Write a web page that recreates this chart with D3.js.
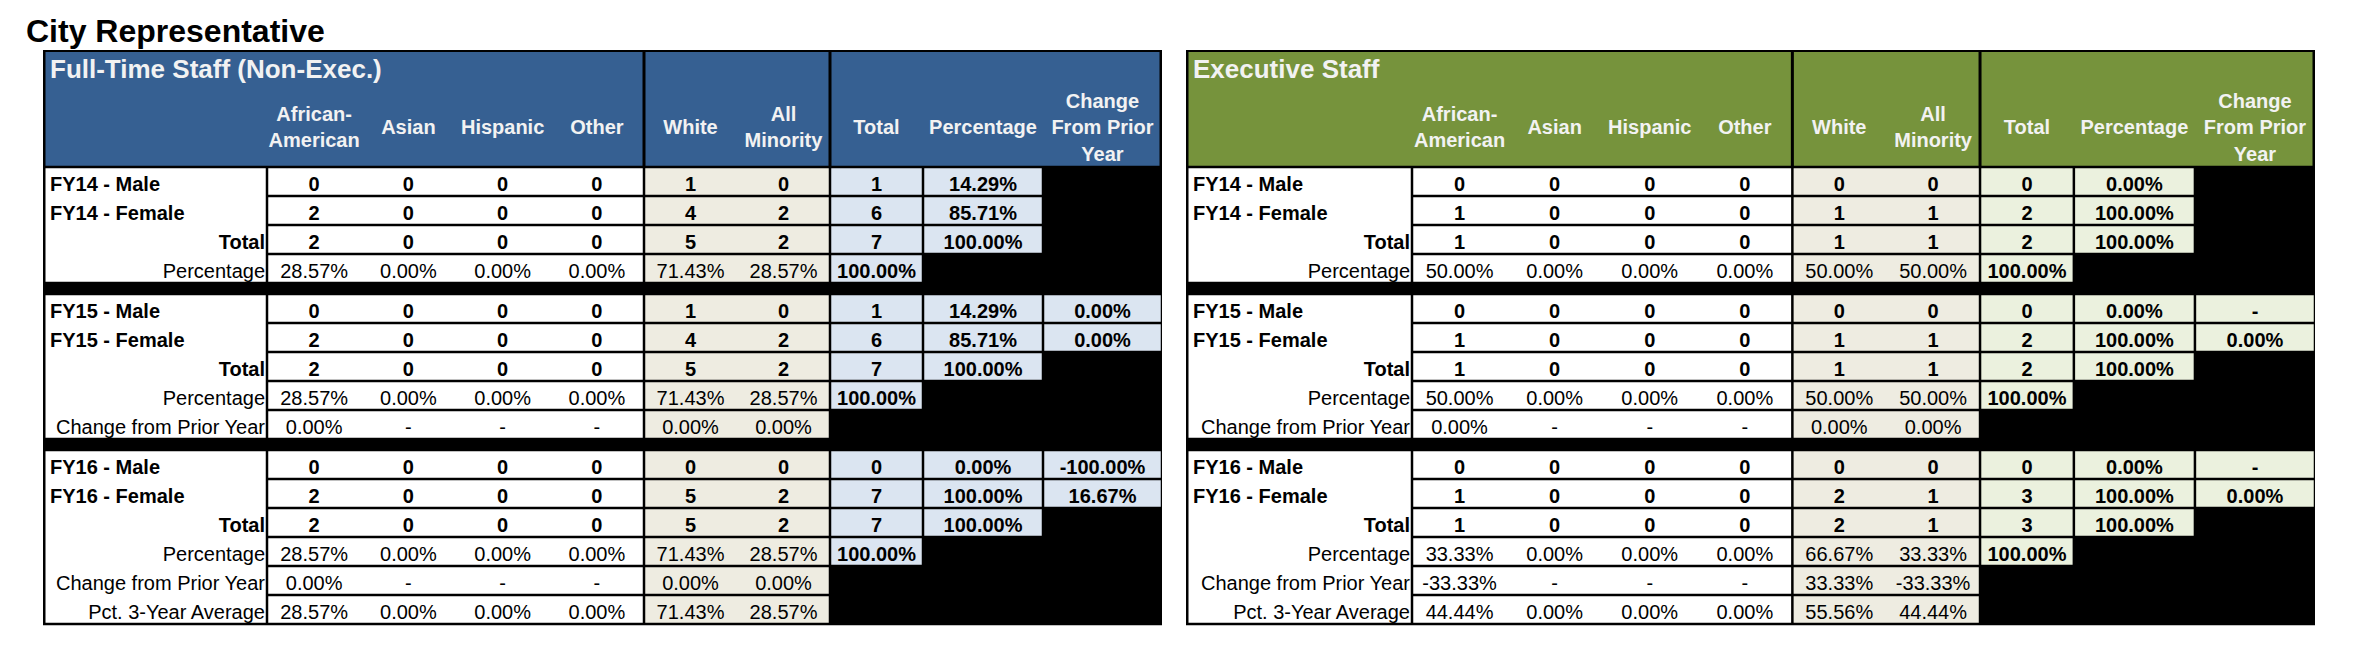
<!DOCTYPE html>
<html>
<head>
<meta charset="utf-8">
<title>City Representative</title>
<script src="https://cdn.jsdelivr.net/npm/d3@7"></script>
<style>
	body { margin: 0; background: #fff; }
	svg text { font-family: "Liberation Sans", Arial, Helvetica, sans-serif; }
</style>
</head>
<body>
<div id="chart"></div>
<script>
(function () {
'use strict';

var chartTitle = "City Representative";
var tableTitles = ["Full-Time Staff (Non-Exec.)", "Executive Staff"];

// column heads, one entry per line
var columnHeaders = [
	[], ["African-", "American"], ["Asian"], ["Hispanic"], ["Other"],
	["White"], ["All", "Minority"], ["Total"], ["Percentage"], ["Change", "From Prior", "Year"]
];

var rowLabels = [
	"FY14 - Male", "FY14 - Female", "Total", "Percentage",
	"FY15 - Male", "FY15 - Female", "Total", "Percentage", "Change from Prior Year",
	"FY16 - Male", "FY16 - Female", "Total", "Percentage", "Change from Prior Year", "Pct. 3-Year Average"
];
var rowKinds = [
	"count", "count", "total", "pct",
	"count", "count", "total", "pct", "change",
	"count", "count", "total", "pct", "change", "avg"
];
var rowBlocks = [0, 0, 0, 0, 1, 1, 1, 1, 1, 2, 2, 2, 2, 2, 2];

// Full-Time Staff (Non-Exec.): African-American, Asian, Hispanic, Other, White, All Minority
var fullTimeGroups = [
	["0", "0", "0", "0", "1", "0"],
	["2", "0", "0", "0", "4", "2"],
	["2", "0", "0", "0", "5", "2"],
	["28.57%", "0.00%", "0.00%", "0.00%", "71.43%", "28.57%"],
	["0", "0", "0", "0", "1", "0"],
	["2", "0", "0", "0", "4", "2"],
	["2", "0", "0", "0", "5", "2"],
	["28.57%", "0.00%", "0.00%", "0.00%", "71.43%", "28.57%"],
	["0.00%", "-", "-", "-", "0.00%", "0.00%"],
	["0", "0", "0", "0", "0", "0"],
	["2", "0", "0", "0", "5", "2"],
	["2", "0", "0", "0", "5", "2"],
	["28.57%", "0.00%", "0.00%", "0.00%", "71.43%", "28.57%"],
	["0.00%", "-", "-", "-", "0.00%", "0.00%"],
	["28.57%", "0.00%", "0.00%", "0.00%", "71.43%", "28.57%"]
];
var fullTimeTotal = ["1", "6", "7", "100.00%", "1", "6", "7", "100.00%", null, "0", "7", "7", "100.00%", null, null];
var fullTimePct = ["14.29%", "85.71%", "100.00%", null, "14.29%", "85.71%", "100.00%", null, null, "0.00%", "100.00%", "100.00%", null, null, null];
var fullTimeChange = [null, null, null, null, "0.00%", "0.00%", null, null, null, "-100.00%", "16.67%", null, null, null, null];

// Executive Staff
var execGroups = [
	["0", "0", "0", "0", "0", "0"],
	["1", "0", "0", "0", "1", "1"],
	["1", "0", "0", "0", "1", "1"],
	["50.00%", "0.00%", "0.00%", "0.00%", "50.00%", "50.00%"],
	["0", "0", "0", "0", "0", "0"],
	["1", "0", "0", "0", "1", "1"],
	["1", "0", "0", "0", "1", "1"],
	["50.00%", "0.00%", "0.00%", "0.00%", "50.00%", "50.00%"],
	["0.00%", "-", "-", "-", "0.00%", "0.00%"],
	["0", "0", "0", "0", "0", "0"],
	["1", "0", "0", "0", "2", "1"],
	["1", "0", "0", "0", "2", "1"],
	["33.33%", "0.00%", "0.00%", "0.00%", "66.67%", "33.33%"],
	["-33.33%", "-", "-", "-", "33.33%", "-33.33%"],
	["44.44%", "0.00%", "0.00%", "0.00%", "55.56%", "44.44%"]
];
var execTotal = ["0", "2", "2", "100.00%", "0", "2", "2", "100.00%", null, "0", "3", "3", "100.00%", null, null];
var execPct = ["0.00%", "100.00%", "100.00%", null, "0.00%", "100.00%", "100.00%", null, null, "0.00%", "100.00%", "100.00%", null, null, null];
var execChange = [null, null, null, null, "-", "0.00%", null, null, null, "-", "0.00%", null, null, null, null];

var width = 2366, height = 650;
var tableTop = 50, headBottom = 167, rowH = 29, blockGap = 11;
var gap = 1.25; // half of a grid line
var colUnits = [224, 94.25, 94.25, 94.25, 94.25, 93, 93, 93, 120, 119];
var colEdges = [0].concat(Array.from(d3.cumsum(colUnits)));

var tables = [
	{title: tableTitles[0], left: 43, right: 1162, head: "#366092", tan: "#eeece1", light: "#dbe5f1",
		groups: fullTimeGroups, total: fullTimeTotal, pct: fullTimePct, change: fullTimeChange},
	{title: tableTitles[1], left: 1186, right: 2315, head: "#76933c", tan: "#eeece1", light: "#ebf1de",
		groups: execGroups, total: execTotal, pct: execPct, change: execChange}
];

var svg = d3.select("#chart").append("svg")
	.attr("width", width)
	.attr("height", height);

svg.append("rect").attr("width", width).attr("height", height).attr("fill", "#fff");

svg.append("text")
	.attr("x", 26)
	.attr("y", 42)
	.attr("font-size", "32px")
	.attr("font-weight", "bold")
	.attr("fill", "#000")
	.text(chartTitle);

var rowY = d3.scaleLinear().domain([0, 1]).range([headBottom, headBottom + rowH]);
var rowTop = function(i){ return rowY(i) + rowBlocks[i] * blockGap; };

var drawTable = function(t){
	var g = svg.append("g").attr("class", "table");
	var x = d3.scaleLinear()
		.domain([0, colEdges[colEdges.length - 1]])
		.range([t.left, t.right]);
	var last = rowLabels.length - 1;
	var bottom = rowTop(last) + rowH + gap;

	// black frame / background, the cells are laid over it
	g.append("rect")
		.attr("x", t.left).attr("y", tableTop)
		.attr("width", t.right - t.left).attr("height", bottom - tableTop)
		.attr("fill", "#000");

	// header band
	g.append("rect")
		.attr("x", t.left + 2.5).attr("y", tableTop + 2)
		.attr("width", t.right - t.left - 5).attr("height", headBottom - gap - tableTop - 2)
		.attr("fill", t.head);
	[5, 7].forEach(function(c){
		g.append("line")
			.attr("x1", x(colEdges[c])).attr("x2", x(colEdges[c]))
			.attr("y1", tableTop).attr("y2", headBottom)
			.attr("stroke", "#000").attr("stroke-width", 3);
	});

	g.append("text")
		.attr("x", t.left + 7).attr("y", 78)
		.attr("font-size", "26px").attr("font-weight", "bold")
		.attr("fill", "#f2f2f2")
		.text(t.title);

	columnHeaders.forEach(function(lines, c){
		var cx = (x(colEdges[c]) + x(colEdges[c + 1])) / 2;
		lines.forEach(function(s, j){
			g.append("text")
				.attr("x", cx)
				.attr("y", 134 + (j - (lines.length - 1) / 2) * 26.5)
				.attr("text-anchor", "middle")
				.attr("font-size", "20px").attr("font-weight", "bold")
				.attr("fill", "#f2f2f2")
				.text(s);
		});
	});

	// label column, one white box per year block
	d3.range(3).forEach(function(b){
		var idx = rowBlocks.map(function(v, i){ return v === b ? i : -1; }).filter(function(i){ return i >= 0; });
		var y0 = rowTop(idx[0]) + gap;
		var y1 = rowTop(idx[idx.length - 1]) + rowH - gap;
		g.append("rect")
			.attr("x", t.left + 2.5).attr("y", y0)
			.attr("width", x(colEdges[1]) - gap - t.left - 2.5).attr("height", y1 - y0)
			.attr("fill", "#fff");
	});

	var cell = function(c0, c1, i, fill){
		g.append("rect")
			.attr("x", x(colEdges[c0]) + gap)
			.attr("y", rowTop(i) + gap)
			.attr("width", x(colEdges[c1]) - x(colEdges[c0]) - 2 * gap)
			.attr("height", rowH - 2 * gap)
			.attr("fill", fill);
	};
	var label = function(c, i, s, bold){
		g.append("text")
			.attr("x", (x(colEdges[c]) + x(colEdges[c + 1])) / 2)
			.attr("y", rowTop(i) + 23.5)
			.attr("text-anchor", "middle")
			.attr("font-size", "20px")
			.attr("font-weight", bold ? "bold" : "normal")
			.attr("fill", "#000")
			.text(s);
	};

	rowLabels.forEach(function(name, i){
		var kind = rowKinds[i];
		var strong = kind === "count" || kind === "total";
		cell(1, 5, i, "#fff");
		cell(5, 7, i, t.tan);
		if(t.total[i] !== null) cell(7, 8, i, t.light);
		if(t.pct[i] !== null) cell(8, 9, i, t.light);
		if(t.change[i] !== null) cell(9, 10, i, t.light);

		var lx = kind === "count" ? t.left + 7 : x(colEdges[1]) - 2;
		g.append("text")
			.attr("x", lx)
			.attr("y", rowTop(i) + 23.5)
			.attr("text-anchor", kind === "count" ? "start" : "end")
			.attr("font-size", "20px")
			.attr("font-weight", strong ? "bold" : "normal")
			.attr("fill", "#000")
			.text(name);

		t.groups[i].forEach(function(v, k){ label(k + 1, i, v, strong); });
		if(t.total[i] !== null) label(7, i, t.total[i], true);
		if(t.pct[i] !== null) label(8, i, t.pct[i], true);
		if(t.change[i] !== null) label(9, i, t.change[i], true);
	});
};

tables.forEach(drawTable);

}()); // end of 'use strict';
</script>
</body>
</html>
